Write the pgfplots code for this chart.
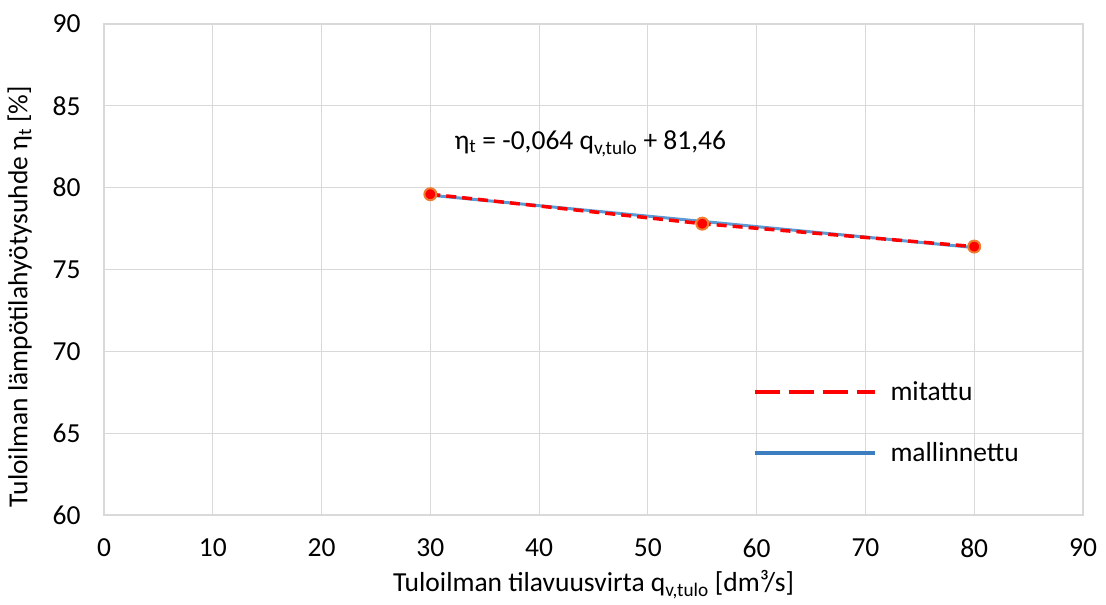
\documentclass[border=0pt]{standalone}
\usepackage{pgfplots}
\pgfplotsset{compat=1.18}
\usepackage{fontspec}
\setmainfont{Carlito}
\definecolor{gridgray}{HTML}{D9D9D9}
\definecolor{xlblue}{HTML}{3C7EC0}
\definecolor{lineblue}{HTML}{5B9BD5}
\definecolor{xlorange}{HTML}{ED7D31}
\begin{document}
\begin{tikzpicture}
\path (-104pt,-90pt) rectangle (1002pt,515pt);
\begin{axis}[
  at={(0pt,0pt)}, anchor=origin,
  scale only axis, width=979pt, height=491pt,
  xmin=0, xmax=90, ymin=60, ymax=90,
  xtick={0,10,...,90}, ytick={60,65,...,90},
  grid=major, grid style={gridgray, line width=1.2pt},
  axis line style={gridgray, line width=1.2pt},
  major tick length=0pt,
  tick label style={font=\fontsize{27.5}{33}\selectfont},
  /pgf/number format/assume math mode=true,
  xticklabel style={yshift=-20pt},
  yticklabel style={xshift=-20pt},
  xlabel={Tuloilman tilavuusvirta q\textsubscript{v,tulo} [dm³/s]},
  ylabel={Tuloilman lämpötilahyötysuhde η\textsubscript{t} [\%]},
  label style={font=\fontsize{27.5}{33}\selectfont},
  xlabel style={yshift=-6pt},
  ylabel style={yshift=14pt, xshift=-27pt},
  legend style={draw=none, fill=none, at={(axis cs:59.6,65.65)}, anchor=west,
    font=\fontsize{27.5}{33}\selectfont, row sep=36pt, inner sep=0pt},
  legend cell align=left,
  legend image code/.code={\draw[#1, mark=none] (0pt,0pt) -- (120pt,0pt);},
  clip=false,
]
\addlegendimage{red, line width=3.5pt, dash pattern=on 25pt off 9pt}
\addlegendentry{\hspace{12pt}mitattu}
\addlegendimage{xlblue, line width=4pt}
\addlegendentry{\hspace{12pt}mallinnettu}
\addplot[forget plot, lineblue, line width=3pt]
  coordinates {(30,79.54) (55,77.94) (80,76.34)};
\addplot[forget plot, red, line width=3.5pt, dash pattern=on 10pt off 6pt, mark=*, mark size=6pt,
  mark options={solid, draw=xlorange, fill=red, line width=2pt}]
  coordinates {(30,79.6) (55,77.8) (80,76.4)};
\node[anchor=west, font=\fontsize{27.5}{33}\selectfont] at (axis cs:31.9,82.7)
  {η\textsubscript{t} = -0,064 q\textsubscript{v,tulo} + 81,46};
\end{axis}
\end{tikzpicture}
\end{document}
